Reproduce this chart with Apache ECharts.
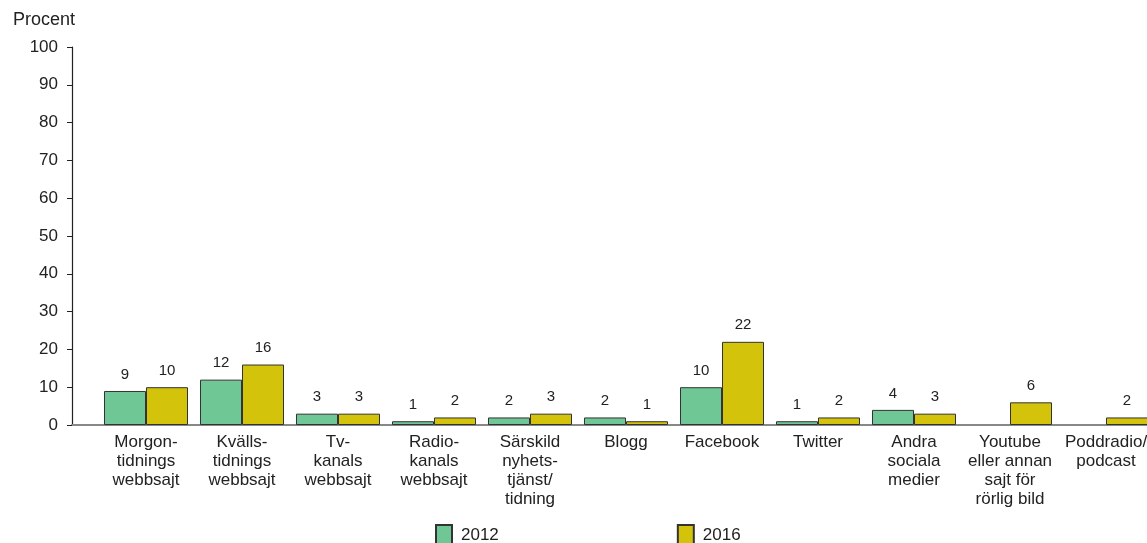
<!DOCTYPE html>
<html><head><meta charset="utf-8">
<script src="https://cdn.jsdelivr.net/npm/echarts@6/dist/echarts.min.js"></script>
<style>html,body{margin:0;padding:0;background:#fff}#c{width:1147px;height:543px}</style>
</head><body><div id="c"></div>
<script>
const categories = ['Morgon-\ntidnings\nwebbsajt','Kvälls-\ntidnings\nwebbsajt','Tv-\nkanals\nwebbsajt','Radio-\nkanals\nwebbsajt','Särskild\nnyhets-\ntjänst/\ntidning','Blogg','Facebook','Twitter','Andra\nsociala\nmedier','Youtube\neller annan\nsajt för\nrörlig bild','Poddradio/\npodcast'];
const values2012 = [9,12,3,1,2,2,10,1,4,null,null];
const values2016 = [10,16,3,2,3,1,22,2,3,6,2];
const seriesNames = ['2012','2016'];
const yMin = 0, yMax = 100, yStep = 10;

const font = '"Liberation Sans", Arial, sans-serif';
const chart = echarts.init(document.getElementById('c'));
const lbl = {show:true, position:'top', distance:9, color:'#222', fontSize:15, fontFamily:font};
chart.setOption({
  animation:false,
  textStyle:{fontFamily:font},
  grid:[
    {left:72, right:0, top:47, bottom:118, outerBoundsMode:'none'},
    {left:98, width:1056, top:47, bottom:118, outerBoundsMode:'none'}
  ],
  xAxis:[
    {gridIndex:0, type:'value', min:0, max:1, axisLine:{show:true, lineStyle:{color:'#888', width:2}}, axisTick:{show:false}, axisLabel:{show:false}, splitLine:{show:false}},
    {gridIndex:1, type:'category', data:categories, axisLine:{show:false}, axisTick:{show:false},
     axisLabel:{interval:0, color:'#222', fontSize:17, lineHeight:19, margin:8, fontFamily:font}}
  ],
  yAxis:[
    {gridIndex:0, type:'value', min:yMin, max:yMax, interval:yStep, name:'Procent', nameLocation:'end', nameGap:18,
     nameTextStyle:{color:'#222', fontSize:18, align:'right', padding:[0,-3,0,0], fontFamily:font},
     axisLine:{show:true, lineStyle:{color:'#222', width:1.2}}, axisTick:{show:true, length:5, lineStyle:{color:'#222'}},
     axisLabel:{color:'#222', fontSize:17, margin:14, fontFamily:font}, splitLine:{show:false}},
    {gridIndex:1, type:'value', min:yMin, max:yMax, interval:yStep, show:false, splitLine:{show:false}}
  ],
  legend:{left:435, top:524, padding:0, itemWidth:16, itemHeight:20, itemGap:178, icon:'rect',
    textStyle:{color:'#222', fontSize:17, fontFamily:font, padding:[0,0,0,4]},
    data:seriesNames},
  series:[
    {name:seriesNames[0], type:'bar', xAxisIndex:1, yAxisIndex:1, data:values2012, barWidth:42, barGap:'0%',
     itemStyle:{color:'#6fc795', borderColor:'#333', borderWidth:1}, label:lbl},
    {name:seriesNames[1], type:'bar', xAxisIndex:1, yAxisIndex:1, data:values2016, barWidth:42, barGap:'0%',
     itemStyle:{color:'#d3c30a', borderColor:'#333', borderWidth:1}, label:lbl}
  ]
});
</script></body></html>
